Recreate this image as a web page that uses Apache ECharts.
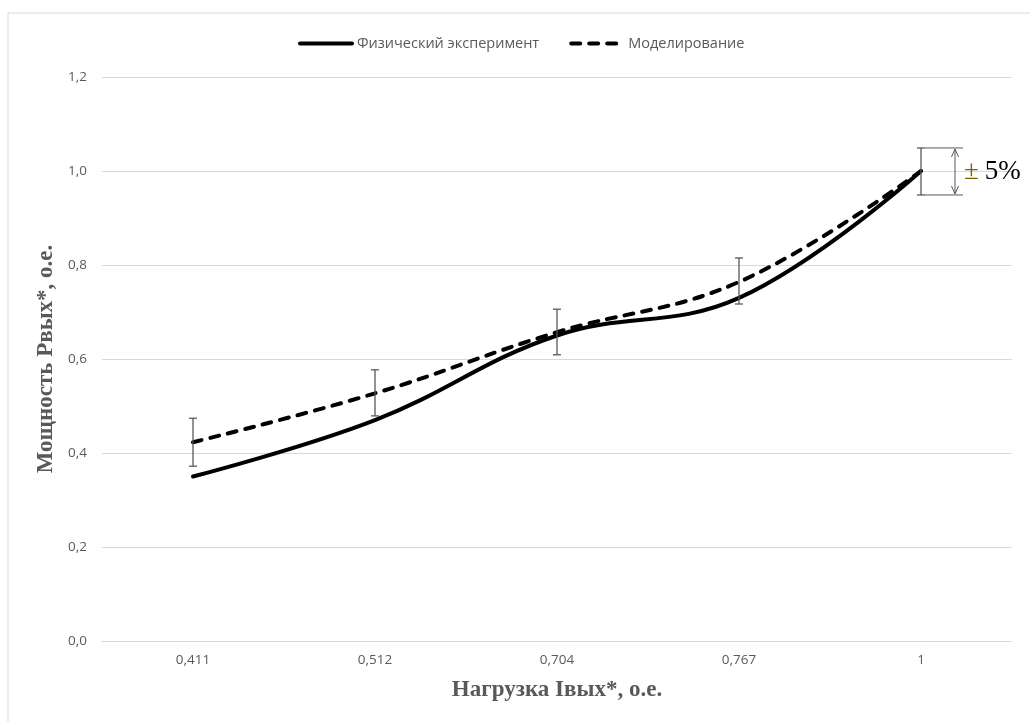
<!DOCTYPE html>
<html>
<head>
<meta charset="utf-8">
<script src="https://cdn.jsdelivr.net/npm/echarts@6/dist/echarts.min.js"></script>
<style>
html,body{margin:0;padding:0;background:#fff;}
#chart{width:1030px;height:722px;}
</style>
</head>
<body>
<div id="chart"></div>
<script>
// ---- data ----
const categories = ['0,411', '0,512', '0,704', '0,767', '1'];
const physical = [0.35, 0.47, 0.65, 0.73, 1.0];
const modeling = [0.423, 0.527, 0.657, 0.764, 1.0];
const errLow  = [0.372, 0.479, 0.609, 0.717, 0.949];
const errHigh = [0.474, 0.577, 0.706, 0.815, 1.049];
const yTicks = [0, 0.2, 0.4, 0.6, 0.8, 1.0, 1.2];
const seriesNames = ['Физический эксперимент', 'Моделирование'];
const annotationText = '5%';
const annotationIndex = 4;

const chart = echarts.init(document.getElementById('chart'));

const errData = categories.map((c, i) => [i, errLow[i], errHigh[i]]);
const annData = [[annotationIndex, errLow[annotationIndex], errHigh[annotationIndex]]];

function renderError(params, api) {
  const x = api.value(0);
  const lo = api.coord([x, api.value(1)]);
  const hi = api.coord([x, api.value(2)]);
  const w = 4;
  const style = { stroke: '#595959', lineWidth: 1.3 };
  return {
    type: 'group',
    children: [
      { type: 'line', shape: { x1: hi[0], y1: hi[1], x2: lo[0], y2: lo[1] }, style },
      { type: 'line', shape: { x1: hi[0] - w, y1: hi[1], x2: hi[0] + w, y2: hi[1] }, style },
      { type: 'line', shape: { x1: lo[0] - w, y1: lo[1], x2: lo[0] + w, y2: lo[1] }, style }
    ]
  };
}

function renderAnnotation(params, api) {
  const x = api.value(0);
  const lo = api.coord([x, api.value(1)]);
  const hi = api.coord([x, api.value(2)]);
  const style = { stroke: '#595959', lineWidth: 1, fill: 'none' };
  const ax = hi[0] + 34;
  const ah = 8, aw = 3.5;
  return {
    type: 'group',
    children: [
      { type: 'line', shape: { x1: hi[0] + 4, y1: hi[1], x2: hi[0] + 42, y2: hi[1] }, style },
      { type: 'line', shape: { x1: lo[0] + 4, y1: lo[1], x2: lo[0] + 42, y2: lo[1] }, style },
      { type: 'line', shape: { x1: ax, y1: hi[1] + 1, x2: ax, y2: lo[1] - 1 }, style },
      { type: 'polyline', shape: { points: [[ax - aw, hi[1] + ah + 1], [ax, hi[1] + 1], [ax + aw, hi[1] + ah + 1]] }, style },
      { type: 'polyline', shape: { points: [[ax - aw, lo[1] - ah - 1], [ax, lo[1] - 1], [ax + aw, lo[1] - ah - 1]] }, style },
      {
        type: 'text',
        x: hi[0] + 43,
        y: (hi[1] + lo[1]) / 2,
        style: {
          text: '{pm|±}{t|' + annotationText + '}',
          verticalAlign: 'middle',
          rich: {
            pm: { fontFamily: 'Liberation Serif', fontSize: 27, fill: '#7f6000', padding: [0, 6, 0, 0] },
            t: { fontFamily: 'Liberation Serif', fontSize: 27, fill: '#000' }
          }
        }
      }
    ]
  };
}

const option = {
  backgroundColor: '#fff',
  animation: false,
  graphic: [
    { type: 'rect', shape: { x: 8, y: 13, width: 1100, height: 800 }, style: { fill: 'none', stroke: '#d9d9d9', lineWidth: 1 }, silent: true }
  ],
  legend: {
    top: 31,
    left: 293,
    itemWidth: 52,
    itemHeight: 12,
    itemGap: 30,
    itemStyle: { opacity: 0 },
    lineStyle: { width: 4 },
    textStyle: { fontFamily: 'Open Sans', fontSize: 14.5, color: '#595959' },
    data: seriesNames
  },
  grid: { left: 102, right: 18, top: 77, bottom: 81 },
  xAxis: {
    type: 'category',
    data: categories,
    boundaryGap: true,
    axisLine: { show: true, lineStyle: { color: '#d9d9d9', width: 1 } },
    axisTick: { show: false },
    axisLabel: { color: '#595959', fontFamily: 'Open Sans', fontSize: 13.5, margin: 12 },
    name: 'Нагрузка Iвых*, о.е.',
    nameLocation: 'middle',
    nameGap: 38,
    nameTextStyle: { fontFamily: 'Liberation Serif', fontWeight: 'bold', fontSize: 23, color: '#595959' }
  },
  yAxis: {
    type: 'value',
    min: 0,
    max: 1.2,
    interval: 0.2,
    axisLine: { show: false },
    axisTick: { show: false },
    splitLine: { lineStyle: { color: '#d9d9d9', width: 1 } },
    axisLabel: {
      color: '#595959', fontFamily: 'Open Sans', fontSize: 13.5, margin: 15,
      formatter: v => yTicks.indexOf(Math.round(v * 10) / 10) >= 0 ? v.toFixed(1).replace('.', ',') : ''
    },
    name: 'Мощность Рвых*, о.е.',
    nameLocation: 'middle',
    nameGap: 42,
    nameTextStyle: { fontFamily: 'Liberation Serif', fontWeight: 'bold', fontSize: 23, color: '#595959' }
  },
  series: [
    {
      name: seriesNames[0],
      type: 'line',
      data: physical,
      smooth: 0.4,
      symbol: 'none',
      lineStyle: { color: '#000', width: 4, cap: 'round' },
      itemStyle: { color: '#000' },
      z: 3
    },
    {
      name: seriesNames[1],
      type: 'line',
      data: modeling,
      smooth: 0.4,
      symbol: 'none',
      lineStyle: { color: '#000', width: 4, type: [9, 9], cap: 'round' },
      itemStyle: { color: '#000' },
      z: 3
    },
    {
      name: 'err',
      type: 'custom',
      data: errData,
      renderItem: renderError,
      encode: { x: 0, y: [1, 2] },
      z: 4,
      silent: true
    },
    {
      name: 'ann',
      type: 'custom',
      data: annData,
      renderItem: renderAnnotation,
      encode: { x: 0, y: [1, 2] },
      z: 4,
      silent: true
    }
  ]
};
chart.setOption(option);
</script>
</body>
</html>
